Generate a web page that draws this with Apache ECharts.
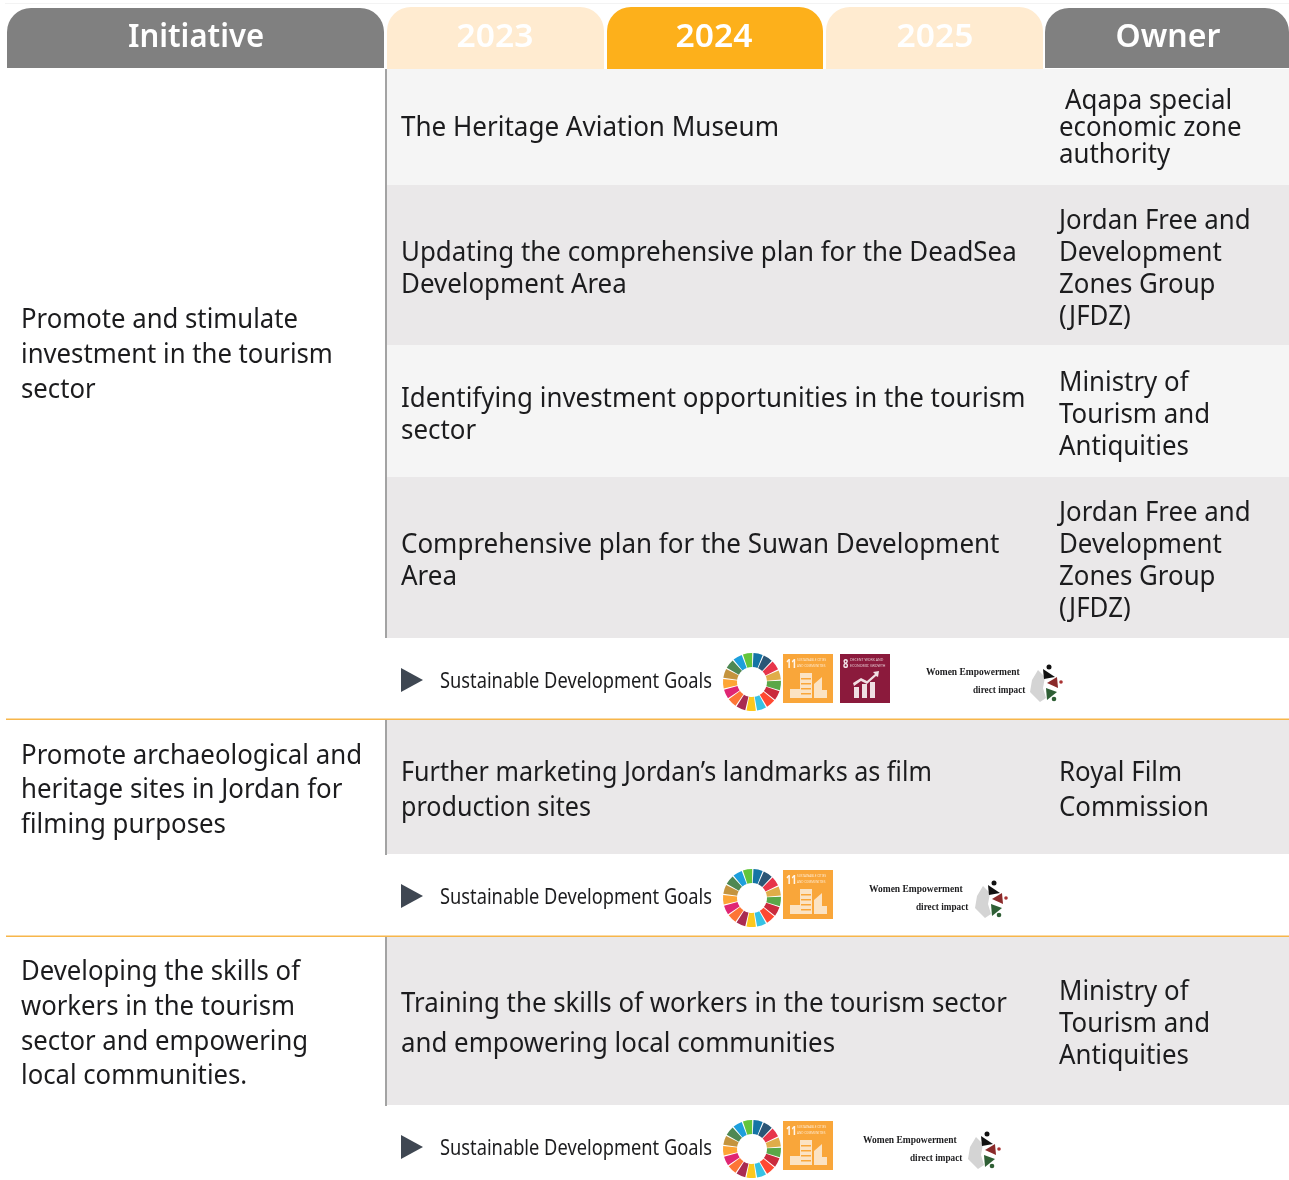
<!DOCTYPE html>
<html>
<head>
<meta charset="utf-8">
<title>Tourism initiatives</title>
<script src="https://cdn.jsdelivr.net/npm/echarts@6/dist/echarts.min.js"></script>
<style>
  html, body { margin: 0; padding: 0; background: #fff; }
  #chart { width: 1289px; height: 1180px; }
</style>
</head>
<body>
<div id="chart"></div>
<script>
const headers = ['Initiative', '2023', '2024', '2025', 'Owner'];
const initiatives = [
  ['Promote and stimulate', 'investment in the tourism', 'sector'],
  ['Promote archaeological and', 'heritage sites in Jordan for', 'filming purposes'],
  ['Developing the skills of', 'workers in the tourism', 'sector and empowering', 'local communities.']
];
const projects = [
  ['The Heritage Aviation Museum'],
  ['Updating the comprehensive plan for the DeadSea', 'Development Area'],
  ['Identifying investment opportunities in the tourism', 'sector'],
  ['Comprehensive plan for the Suwan Development', 'Area'],
  ['Further marketing Jordan’s landmarks as film', 'production sites'],
  ['Training the skills of workers in the tourism sector', 'and empowering local communities']
];
const owners = [
  ['Aqapa special', 'economic zone', 'authority'],
  ['Jordan Free and', 'Development', 'Zones Group', '(JFDZ)'],
  ['Ministry of', 'Tourism and', 'Antiquities'],
  ['Jordan Free and', 'Development', 'Zones Group', '(JFDZ)'],
  ['Royal Film', 'Commission'],
  ['Ministry of', 'Tourism and', 'Antiquities']
];
const sdgLabel = 'Sustainable Development Goals';
const womenLabel = ['Women Empowerment', 'direct impact'];
const sdgWheelColors = ['#e5243b', '#dda63a', '#4c9f38', '#c5192d', '#ff3a21', '#26bde2', '#fcc30b', '#a21942', '#fd6925',
  '#dd1367', '#fd9d24', '#bf8b2e', '#3f7e44', '#0a97d9', '#56c02b', '#00689d', '#19486a'];
const sdgWheelValues = [1, 1, 1, 1, 1, 1, 1, 1, 1, 1, 1, 1, 1, 1, 1, 1, 1];

const FONT = '"Noto Sans"';
const INK = '#1c1c1e';
const graphics = [];

function txt(str, x, y, o) {
  o = o || {};
  graphics.push({
    type: 'text', x: x, y: y, scaleX: o.sx || 0.98, silent: true, z: 5,
    style: {
      text: str, fill: o.fill || INK, textAlign: o.align || 'left', verticalAlign: 'middle',
      opacity: o.opacity || 1,
      font: (o.weight || 400) + ' ' + (o.size || 26.5) + 'px ' + (o.family || FONT)
    }
  });
}
function box(x, y, w, h, fill, r) {
  graphics.push({ type: 'rect', silent: true, z: 1, shape: { x: x, y: y, width: w, height: h, r: r || 0 }, style: { fill: fill } });
}
function poly(points, fill) {
  graphics.push({ type: 'polygon', silent: true, z: 3, shape: { points: points }, style: { fill: fill } });
}
function dot(cx, cy, r, fill) {
  graphics.push({ type: 'circle', silent: true, z: 3, shape: { cx: cx, cy: cy, r: r }, style: { fill: fill } });
}
function lines(list, x, ys, o) {
  list.forEach(function (s, i) { txt(s, x, ys[i] + 2, o); });
}

// page rule at the very top
box(5, 3, 1284, 1, '#f3f3f3');

// header tabs
const tabs = [
  [7, 8, 377, 60, '#808080', 196, 0.97],
  [387, 7, 217, 62, '#ffebd0', 495, 1.05],
  [607, 7, 216, 62, '#fdb01b', 714, 1.05],
  [826, 7, 217, 62, '#ffebd0', 935, 1.05],
  [1045, 8, 244, 60, '#808080', 1168, 1.0]
];
tabs.forEach(function (t, i) {
  box(t[0], t[1], t[2], t[3], t[4], [24, 24, 0, 0]);
  txt(headers[i], t[5], 37.5, { size: 32, weight: 600, fill: '#fff', align: 'center', sx: t[6] });
});

// table rows
const rowBands = [
  [69, 116, '#f5f5f5'], [185, 160, '#eae8e9'], [345, 132, '#f5f5f5'], [477, 161, '#eae8e9'],
  [720, 134, '#eae8e9'], [937, 168, '#eae8e9']
];
rowBands.forEach(function (b) { box(387, b[0], 902, b[1], b[2]); });
box(385, 69, 2, 569, '#a3a3a3');
box(385, 720, 2, 135, '#a3a3a3');
box(385, 937, 2, 169, '#a3a3a3');
box(6, 718.5, 1283, 1.5, '#f7b64a');
box(6, 935.5, 1283, 1.5, '#f7b64a');

// left column
lines(initiatives[0], 21, [318, 353, 388], { sx: 0.97 });
lines(initiatives[1], 21, [754, 788, 823], { sx: 0.975 });
lines(initiatives[2], 21, [970, 1005, 1040, 1074], { sx: 0.97 });

// project column, each block squeezed to the source line widths
const projectYs = [[126], [251, 283], [397, 429], [543, 575], [771, 806], [1002, 1042]];
const projectSx = [0.982, 0.977, 0.977, 0.98, 0.947, 0.975];
projects.forEach(function (p, i) { lines(p, 401, projectYs[i], { sx: projectSx[i] }); });

// owner column
const ownerYs = [[99, 126, 153], [219, 251, 283, 315], [381, 413, 445], [511, 543, 575, 607], [771, 806], [990, 1022, 1054]];
owners.forEach(function (p, i) {
  p.forEach(function (s, j) { txt(s, i === 0 && j === 0 ? 1065 : 1059, ownerYs[i][j] + 2, { sx: 0.975 }); });
});

// goal tile, drawn at its top-left corner
function goalTile(x, y, num, title, fill, titleX, titleSx) {
  box(x, y, 50, 49, fill);
  txt(num, x + 3, y + 10, { size: 13, weight: 700, fill: '#fff', sx: 0.72, opacity: 0.9 });
  txt(title[0], x + titleX, y + 6, { size: 4.2, fill: '#fff', sx: titleSx, opacity: 0.75 });
  txt(title[1], x + titleX, y + 12, { size: 4.2, fill: '#fff', sx: titleSx, opacity: 0.75 });
}
function cityGlyph(x, y) {
  const c = '#fbe3c4';
  box(x + 17, y + 19, 12, 25, c);
  box(x + 7, y + 35, 10, 9, c);
  poly([[x + 31, y + 30], [x + 39, y + 23], [x + 39, y + 44], [x + 31, y + 44]], c);
  box(x + 39, y + 36, 5, 8, c);
  [24, 29, 34, 39].forEach(function (d) { box(x + 18, y + d, 10, 1.5, '#f9a63a'); });
}
function growthGlyph(x, y) {
  const c = '#f1dfe3';
  box(x + 14, y + 33, 5, 11, c);
  box(x + 22, y + 30, 5, 14, c);
  box(x + 30, y + 28, 5, 16, c);
  poly([[x + 13, y + 29], [x + 21, y + 24], [x + 27, y + 27], [x + 35, y + 20], [x + 33, y + 18], [x + 39, y + 17], [x + 38, y + 23], [x + 36, y + 22], [x + 27, y + 30], [x + 21, y + 27], [x + 14, y + 32]], c);
}
function womenMark(x, y) {
  poly([[x + 8, y + 5], [x + 2, y + 15], [x, y + 27], [x + 10, y + 37], [x + 16, y + 33], [x + 13, y + 23], [x + 15, y + 12]], '#d4d4d4');
  poly([[x + 13, y + 4], [x + 25, y + 12], [x + 14, y + 14]], '#111');
  dot(x + 19, y + 2, 2.5, '#111');
  poly([[x + 17, y + 18], [x + 27, y + 12], [x + 28, y + 23]], '#8a2a2a');
  dot(x + 31, y + 17, 1.8, '#a33');
  poly([[x + 16, y + 23], [x + 27, y + 27], [x + 17, y + 35]], '#2f5f35');
  dot(x + 24, y + 34, 2.3, '#2f5f35');
}

// goals strips
const strips = [
  { y: 680, tileY: 654, wheelY: 682, women: [926, 973, 672, 690, 1030, 665], eight: true },
  { y: 896, tileY: 870, wheelY: 898, women: [869, 916, 889, 907, 975, 881], eight: false },
  { y: 1147, tileY: 1121, wheelY: 1149, women: [863, 910, 1140, 1158, 968, 1132], eight: false }
];
strips.forEach(function (s) {
  poly([[401, s.y - 12], [423, s.y], [401, s.y + 12]], '#3f4752');
  txt(sdgLabel, 440, s.y + 2, { size: 22, sx: 0.83 });
  goalTile(783, s.tileY, '11', ['SUSTAINABLE CITIES', 'AND COMMUNITIES'], '#f9a63a', 14, 0.72);
  cityGlyph(783, s.tileY);
  if (s.eight) {
    goalTile(840, s.tileY, '8', ['DECENT WORK AND', 'ECONOMIC GROWTH'], '#8b1a3c', 10, 0.85);
    growthGlyph(840, s.tileY);
  }
  txt(womenLabel[0], s.women[0], s.women[2] + 1, { size: 9.5, weight: 700, family: '"Liberation Serif"', sx: 1 });
  txt(womenLabel[1], s.women[1], s.women[3] + 1, { size: 9.5, weight: 700, family: '"Liberation Serif"', sx: 0.97 });
  womenMark(s.women[4], s.women[5]);
});

const wheelSeries = strips.map(function (s) {
  return {
    type: 'pie', silent: true, center: [752, s.wheelY], radius: [15, 29], startAngle: 46, padAngle: 2.5,
    label: { show: false }, labelLine: { show: false }, animation: false,
    data: sdgWheelValues.map(function (v, i) { return { value: v, itemStyle: { color: sdgWheelColors[i], opacity: 0.92 } }; })
  };
});

const chart = echarts.init(document.getElementById('chart'), null, { renderer: 'canvas' });
chart.setOption({
  animation: false,
  backgroundColor: '#fff',
  graphic: { elements: graphics },
  series: wheelSeries
});
</script>
</body>
</html>
